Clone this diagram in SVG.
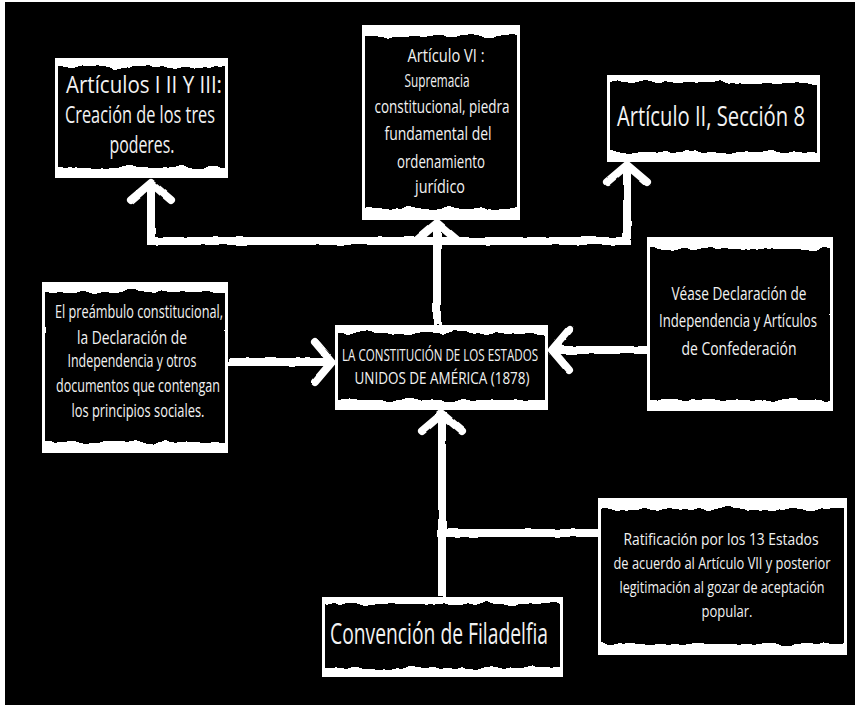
<svg xmlns="http://www.w3.org/2000/svg" width="855" height="705" viewBox="0 0 855 705">
<style>
.frame{fill:#fff}
.inner{fill:#000;filter:url(#rough)}
.t{fill:#f2f2f2;font-family:"Open Sans","DejaVu Sans Condensed",sans-serif;font-weight:400;text-anchor:middle}
.conn{fill:none;stroke:#fff;stroke-width:8}
</style>
<defs>
<filter id="rough" x="-5%" y="-10%" width="110%" height="120%">
<feTurbulence type="fractalNoise" baseFrequency="0.05 0.02" numOctaves="3" seed="4" result="n"/>
<feDisplacementMap in="SourceGraphic" in2="n" scale="9" xChannelSelector="R" yChannelSelector="G"/>
</filter>
<filter id="roughline" x="-5%" y="-5%" width="110%" height="110%">
<feTurbulence type="fractalNoise" baseFrequency="0.06" numOctaves="2" seed="7" result="n"/>
<feDisplacementMap in="SourceGraphic" in2="n" scale="3" xChannelSelector="R" yChannelSelector="G"/>
</filter>
<clipPath id="c1"><rect x="58" y="61" width="167" height="114"/></clipPath>
<clipPath id="c2"><rect x="365" y="28" width="152" height="189"/></clipPath>
<clipPath id="c3"><rect x="610" y="78" width="207" height="81"/></clipPath>
<clipPath id="c4"><rect x="45" y="285" width="180" height="165"/></clipPath>
<clipPath id="c5"><rect x="338" y="328" width="207" height="79"/></clipPath>
<clipPath id="c6"><rect x="650" y="240" width="180" height="168"/></clipPath>
<clipPath id="c7"><rect x="325" y="600" width="235" height="74"/></clipPath>
<clipPath id="c8"><rect x="601" y="501" width="243" height="151"/></clipPath>
<marker id="arrow" markerUnits="userSpaceOnUse" viewBox="-30 -30 60 60" markerWidth="60" markerHeight="60" refX="0" refY="0" orient="auto" overflow="visible">
<path d="M-17,-20 L0,0 L-17,20" fill="none" stroke="#fff" stroke-width="8" stroke-linecap="round" stroke-linejoin="round"/>
</marker>
</defs>
<rect x="0" y="0" width="855" height="705" fill="#000"/>
<rect x="0" y="0" width="5" height="705" fill="#fff"/>
<rect x="0" y="0" width="855" height="2" fill="#fff"/>

<g id="connectors" filter="url(#roughline)">
<path class="conn" d="M147,241 H631"/>
<path class="conn" d="M151,241 V183" marker-end="url(#arrow)"/>
<path class="conn" d="M627,241 V165" marker-end="url(#arrow)"/>
<path class="conn" d="M437,325 V223" marker-end="url(#arrow)"/>
<path class="conn" d="M228,362 H332" marker-end="url(#arrow)"/>
<path class="conn" d="M647,350 H552" marker-end="url(#arrow)"/>
<path class="conn" d="M442,597 V414" marker-end="url(#arrow)"/>
<path class="conn" d="M442,533 H598"/>
</g>

<g id="node-articulos-1-2-3">
<rect class="frame" x="55" y="58" width="173" height="120"/>
<g clip-path="url(#c1)"><rect class="inner" x="56" y="67" width="171" height="100"/></g>
<text class="t" font-size="23" x="144" y="93" textLength="156" lengthAdjust="spacingAndGlyphs">Artículos I II Y III:</text>
<text class="t" font-size="23" x="140" y="123" textLength="150" lengthAdjust="spacingAndGlyphs">Creación de los tres</text>
<text class="t" font-size="23" x="142" y="153" textLength="65" lengthAdjust="spacingAndGlyphs">poderes.</text>
</g>

<g id="node-articulo-6">
<rect class="frame" x="362" y="25" width="158" height="195"/>
<g clip-path="url(#c2)"><rect class="inner" x="363" y="36" width="156" height="172"/></g>
<text class="t" font-size="19" x="446" y="62" textLength="77" lengthAdjust="spacingAndGlyphs">Artículo VI :</text>
<text class="t" font-size="19" x="437" y="87" textLength="65" lengthAdjust="spacingAndGlyphs">Supremacia</text>
<text class="t" font-size="19" x="442" y="113" textLength="135" lengthAdjust="spacingAndGlyphs">constitucional, piedra</text>
<text class="t" font-size="19" x="438" y="140" textLength="107" lengthAdjust="spacingAndGlyphs">fundamental del</text>
<text class="t" font-size="19" x="441" y="168" textLength="88" lengthAdjust="spacingAndGlyphs">ordenamiento</text>
<text class="t" font-size="19" x="440" y="193" textLength="50" lengthAdjust="spacingAndGlyphs">jurídico</text>
</g>

<g id="node-articulo-2-seccion-8">
<rect class="frame" x="607" y="75" width="213" height="87"/>
<g clip-path="url(#c3)"><rect class="inner" x="608" y="83" width="211" height="69"/></g>
<text class="t" font-size="28" x="711" y="126" textLength="188" lengthAdjust="spacingAndGlyphs">Artículo II, Sección 8</text>
</g>

<g id="node-preambulo">
<rect class="frame" x="42" y="282" width="186" height="171"/>
<g clip-path="url(#c4)"><rect class="inner" x="43" y="292" width="184" height="150"/></g>
<text class="t" font-size="18" x="139" y="318" textLength="168" lengthAdjust="spacingAndGlyphs">El preámbulo constitucional,</text>
<text class="t" font-size="18" x="132" y="344" textLength="110" lengthAdjust="spacingAndGlyphs">la Declaración de</text>
<text class="t" font-size="18" x="132" y="367" textLength="129" lengthAdjust="spacingAndGlyphs">Independencia y otros</text>
<text class="t" font-size="18" x="138" y="392" textLength="164" lengthAdjust="spacingAndGlyphs">documentos que contengan</text>
<text class="t" font-size="18" x="138" y="417" textLength="133" lengthAdjust="spacingAndGlyphs">los principios sociales.</text>
</g>

<g id="node-constitucion">
<rect class="frame" x="335" y="325" width="213" height="85"/>
<g clip-path="url(#c5)"><rect class="inner" x="336" y="333" width="211" height="67"/></g>
<text class="t" font-size="17" x="440" y="361" textLength="196" lengthAdjust="spacingAndGlyphs">LA CONSTITUCIÓN DE LOS ESTADOS</text>
<text class="t" font-size="17" x="442" y="384" textLength="175" lengthAdjust="spacingAndGlyphs">UNIDOS DE AMÉRICA (1878)</text>
</g>

<g id="node-vease">
<rect class="frame" x="647" y="237" width="186" height="174"/>
<g clip-path="url(#c6)"><rect class="inner" x="648" y="249" width="184" height="151"/></g>
<text class="t" font-size="18" x="739" y="300" textLength="135" lengthAdjust="spacingAndGlyphs">Véase Declaración de</text>
<text class="t" font-size="18" x="738" y="327" textLength="158" lengthAdjust="spacingAndGlyphs">Independencia y Artículos</text>
<text class="t" font-size="18" x="739" y="355" textLength="115" lengthAdjust="spacingAndGlyphs">de Confederación</text>
</g>

<g id="node-convencion">
<rect class="frame" x="322" y="597" width="241" height="80"/>
<g clip-path="url(#c7)"><rect class="inner" x="323" y="604" width="239" height="64"/></g>
<text class="t" font-size="30" x="439" y="644" textLength="218" lengthAdjust="spacingAndGlyphs">Convención de Filadelfia</text>
</g>

<g id="node-ratificacion">
<rect class="frame" x="598" y="498" width="249" height="157"/>
<g clip-path="url(#c8)"><rect class="inner" x="599" y="509" width="247" height="135"/></g>
<text class="t" font-size="17" x="721" y="545" textLength="195" lengthAdjust="spacingAndGlyphs">Ratificación por los 13 Estados</text>
<text class="t" font-size="17" x="722" y="569" textLength="217" lengthAdjust="spacingAndGlyphs">de acuerdo al Artículo VII y posterior</text>
<text class="t" font-size="17" x="722" y="593" textLength="205" lengthAdjust="spacingAndGlyphs">legitimación al gozar de aceptación</text>
<text class="t" font-size="17" x="727" y="617" textLength="51" lengthAdjust="spacingAndGlyphs">popular.</text>
</g>
</svg>
